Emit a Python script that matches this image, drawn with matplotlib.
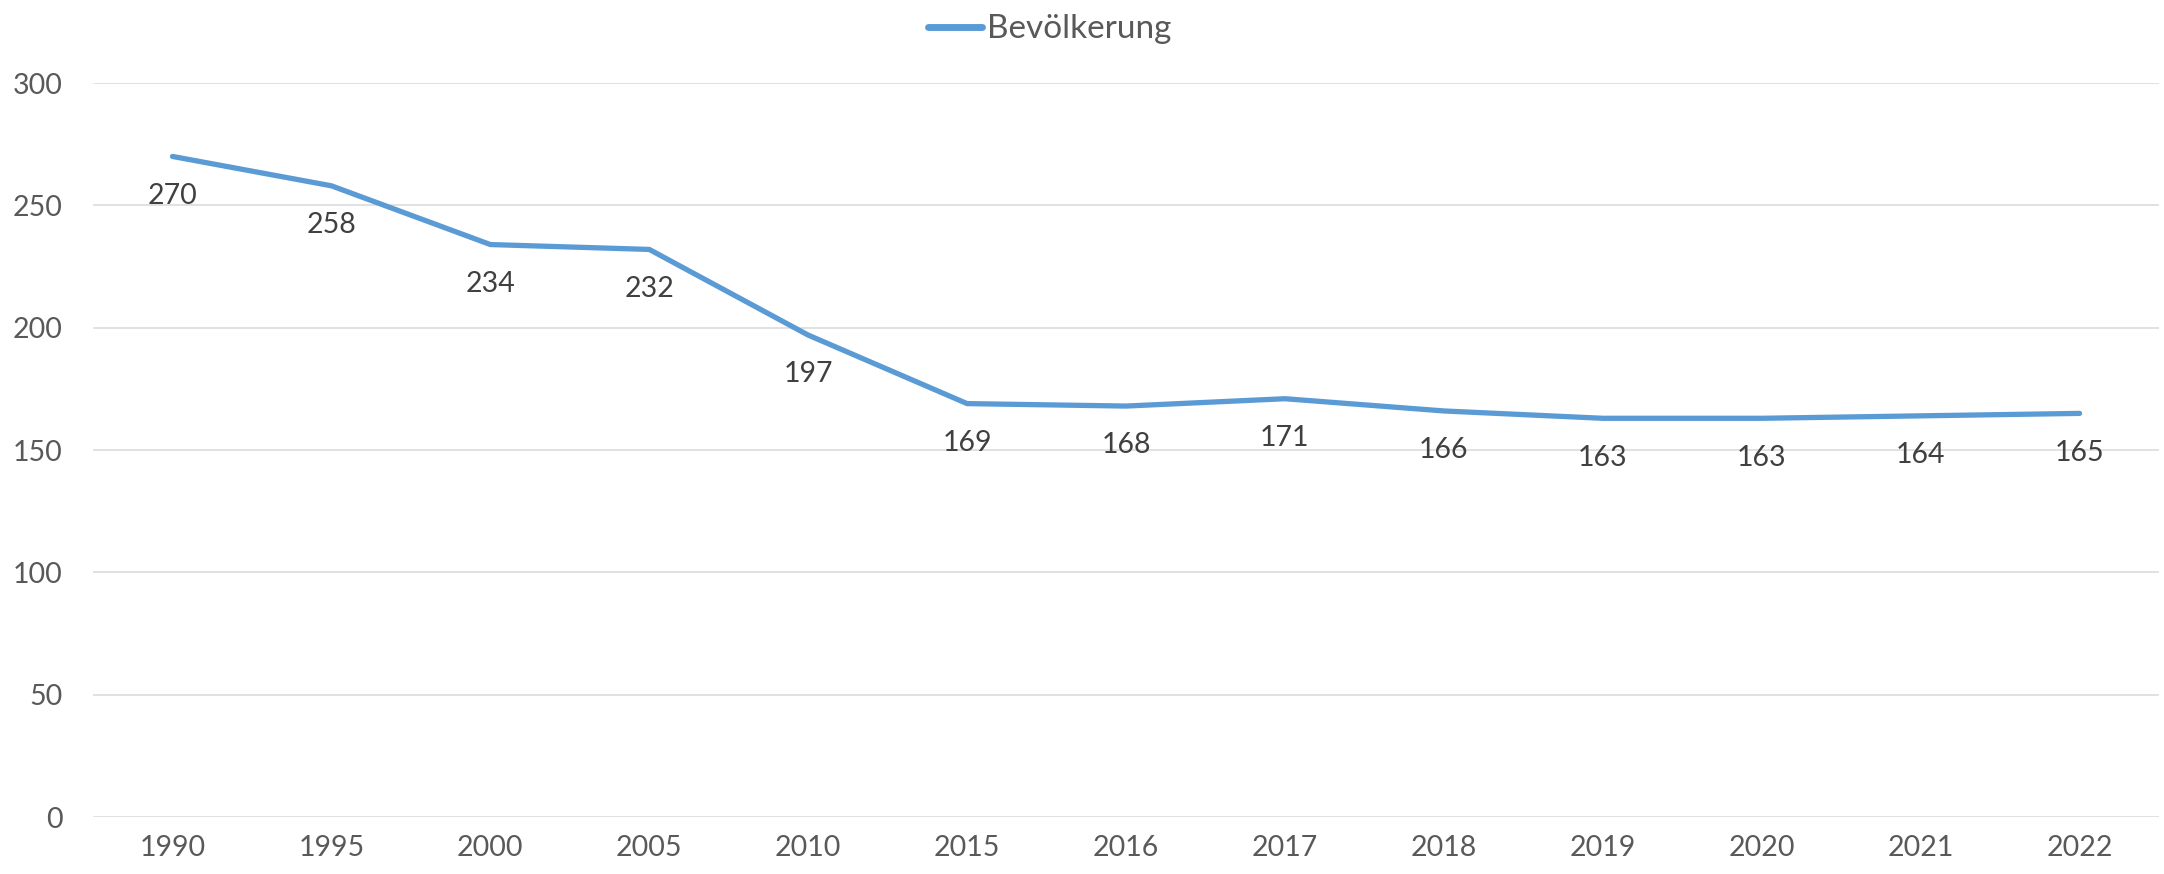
import numpy as np
from matplotlib import pyplot as plt

# data
years = ['1990', '1995', '2000', '2005', '2010', '2015', '2016', '2017',
         '2018', '2019', '2020', '2021', '2022']
population = [270, 258, 234, 232, 197, 169, 168, 171, 166, 163, 163, 164, 165]
yticks = [0, 50, 100, 150, 200, 250, 300]

plt.rcParams['font.family'] = ['Lato', 'DejaVu Sans']

fig = plt.figure(figsize=(21.64, 8.74), dpi=100)
ax = fig.add_axes([0.043, 0.065, 0.9547, 0.84])

x = np.arange(len(years))
ax.plot(x, population, color='#5B9BD5', linewidth=3.8,
        solid_capstyle='round', label='Bevölkerung')

# data labels below each point
for xi, v in zip(x, population):
    ax.annotate(str(v), (xi, v), xytext=(0, -19), textcoords='offset points',
                ha='center', va='top', fontsize=20.5, color='#404040')

ax.set_xlim(-0.5, len(years) - 0.5)
ax.set_ylim(0, 300)
ax.set_xticks(x)
ax.set_xticklabels(years)
ax.set_yticks(yticks)
ax.tick_params(axis='both', length=0, labelsize=20.5, labelcolor='#595959')
ax.tick_params(axis='y', pad=22)
ax.tick_params(axis='x', pad=13)
ax.grid(axis='y', color='#D9D9D9', linewidth=1.1)
ax.set_axisbelow(True)
for s in ax.spines.values():
    s.set_visible(False)

leg = fig.legend(loc='upper center', bbox_to_anchor=(0.485, 1.018), frameon=False,
                 fontsize=24, handlelength=1.6, handletextpad=0.15)
for t in leg.get_texts():
    t.set_color('#595959')
leg.get_lines()[0].set_linewidth(5)

plt.savefig('out.png', dpi=100)
